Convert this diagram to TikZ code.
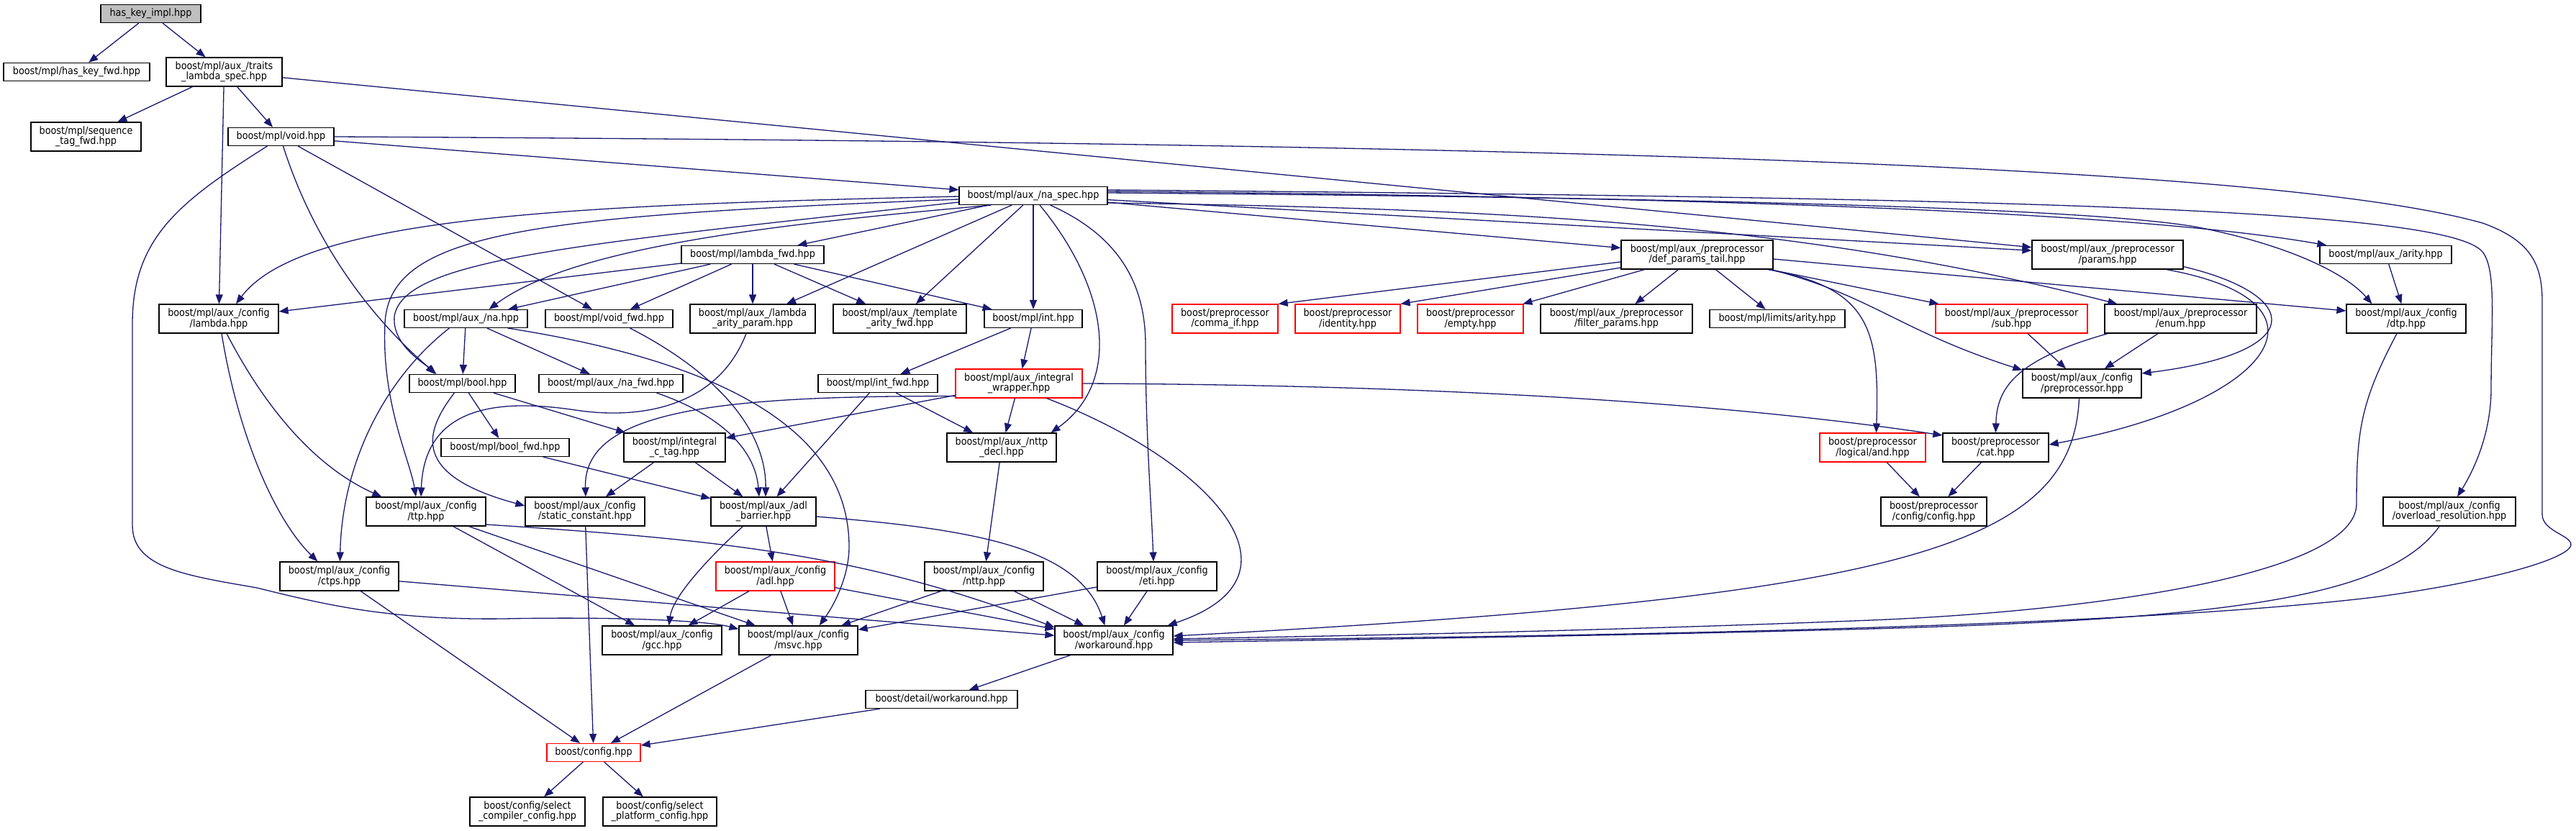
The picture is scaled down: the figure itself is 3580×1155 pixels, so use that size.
\documentclass[tikz,border=0pt]{standalone}
\usepackage{fontspec}
\setmainfont{DejaVu Sans}[FakeStretch=0.9]
\usetikzlibrary{arrows.meta,calc}
\definecolor{edgec}{HTML}{191970}
\definecolor{rootfill}{HTML}{BFBFBF}
\newcommand{\nodefont}{\fontsize{7.1pt}{7.2pt}\selectfont}
\tikzset{
 box/.style={draw=black, fill=white, line width=0.6pt, inner sep=0pt, align=center, font=\nodefont, minimum height=12.5pt, text=black},
 two/.style={minimum height=20pt},
 redbox/.style={box, draw=red},
 root/.style={box, fill=rootfill},
 wd/.style={minimum width=#1*0.5pt},
 edge/.style={draw=edgec, line width=0.65pt, -{Triangle[length=6.5pt,width=5pt]}},
}
\begin{document}
\begin{tikzpicture}[x=0.5pt,y=-0.5pt]
\fill[white] (0,0) rectangle (3580,1155);
\useasboundingbox (0,0) rectangle (3580,1155);

% nodes
\node[root,wd=139] (n1) at (209.5,19) {has\_key\_impl.hpp};
\node[box,wd=203] (n2) at (106.5,100) {boost/mpl/has\_key\_fwd.hpp};
\node[box,two,wd=161] (n3) at (311.5,100) {boost/mpl/aux\_/traits\\\_lambda\_spec.hpp};
\node[box,two,wd=153] (n4) at (119.5,190) {boost/mpl/sequence\\\_tag\_fwd.hpp};
\node[box,wd=147] (n5) at (390.5,190) {boost/mpl/void.hpp};
\node[box,wd=206] (n6) at (1436,272) {boost/mpl/aux\_/na\_spec.hpp};
\node[box,wd=198] (n7) at (1046,354) {boost/mpl/lambda\_fwd.hpp};
\node[box,two,wd=211] (n8) at (2358.5,354) {boost/mpl/aux\_/preprocessor\\/def\_params\_tail.hpp};
\node[box,two,wd=210] (n9) at (2929,354) {boost/mpl/aux\_/preprocessor\\/params.hpp};
\node[box,wd=183] (n10) at (3315.5,354) {boost/mpl/aux\_/arity.hpp};
\node[box,two,wd=166] (n11) at (304,443) {boost/mpl/aux\_/config\\/lambda.hpp};
\node[box,wd=171] (n12) at (647.5,443) {boost/mpl/aux\_/na.hpp};
\node[box,wd=177] (n13) at (846.5,443) {boost/mpl/void\_fwd.hpp};
\node[box,two,wd=174] (n14) at (1046,443) {boost/mpl/aux\_/lambda\\\_arity\_param.hpp};
\node[box,two,wd=185] (n15) at (1250.5,443) {boost/mpl/aux\_/template\\\_arity\_fwd.hpp};
\node[box,wd=136] (n16) at (1436,443) {boost/mpl/int.hpp};
\node[redbox,two,wd=147] (n17) at (1702.5,443) {boost/preprocessor\\/comma\_if.hpp};
\node[redbox,two,wd=146] (n18) at (1873,443) {boost/preprocessor\\/identity.hpp};
\node[redbox,two,wd=147] (n19) at (2043.5,443) {boost/preprocessor\\/empty.hpp};
\node[box,two,wd=211] (n20) at (2246.5,443) {boost/mpl/aux\_/preprocessor\\/filter\_params.hpp};
\node[box,wd=188] (n21) at (2470,443) {boost/mpl/limits/arity.hpp};
\node[redbox,two,wd=211] (n22) at (2795.5,443) {boost/mpl/aux\_/preprocessor\\/sub.hpp};
\node[box,two,wd=211] (n23) at (3030.5,443) {boost/mpl/aux\_/preprocessor\\/enum.hpp};
\node[box,two,wd=166] (n24) at (3344,443) {boost/mpl/aux\_/config\\/dtp.hpp};
\node[box,wd=147] (n25) at (642.5,533) {boost/mpl/bool.hpp};
\node[box,wd=200] (n26) at (849,533) {boost/mpl/aux\_/na\_fwd.hpp};
\node[box,wd=166] (n27) at (1220,533) {boost/mpl/int\_fwd.hpp};
\node[redbox,two,wd=176] (n28) at (1416,533) {boost/mpl/aux\_/integral\\\_wrapper.hpp};
\node[box,two,wd=165] (n29) at (2893.5,533) {boost/mpl/aux\_/config\\/preprocessor.hpp};
\node[box,wd=178] (n30) at (702,622) {boost/mpl/bool\_fwd.hpp};
\node[box,two,wd=141] (n31) at (937.5,622) {boost/mpl/integral\\\_c\_tag.hpp};
\node[box,two,wd=152] (n32) at (1392,622) {boost/mpl/aux\_/nttp\\\_decl.hpp};
\node[redbox,two,wd=147] (n33) at (2602.5,622) {boost/preprocessor\\/logical/and.hpp};
\node[box,two,wd=147] (n34) at (2773.5,622) {boost/preprocessor\\/cat.hpp};
\node[box,two,wd=166] (n35) at (592,711) {boost/mpl/aux\_/config\\/ttp.hpp};
\node[box,two,wd=166] (n36) at (813,711) {boost/mpl/aux\_/config\\/static\_constant.hpp};
\node[box,two,wd=146] (n37) at (1061,711) {boost/mpl/aux\_/adl\\\_barrier.hpp};
\node[box,two,wd=147] (n38) at (2687.5,711) {boost/preprocessor\\/config/config.hpp};
\node[box,two,wd=184] (n39) at (3404,711) {boost/mpl/aux\_/config\\/overload\_resolution.hpp};
\node[box,two,wd=165] (n40) at (471.5,801) {boost/mpl/aux\_/config\\/ctps.hpp};
\node[redbox,two,wd=165] (n41) at (1077.5,801) {boost/mpl/aux\_/config\\/adl.hpp};
\node[box,two,wd=165] (n42) at (1367.5,801) {boost/mpl/aux\_/config\\/nttp.hpp};
\node[box,two,wd=166] (n43) at (1608,801) {boost/mpl/aux\_/config\\/eti.hpp};
\node[box,two,wd=166] (n44) at (920,890) {boost/mpl/aux\_/config\\/gcc.hpp};
\node[box,two,wd=165] (n45) at (1109.5,890) {boost/mpl/aux\_/config\\/msvc.hpp};
\node[box,two,wd=164] (n46) at (1548,890) {boost/mpl/aux\_/config\\/workaround.hpp};
\node[box,wd=211] (n47) at (1308.5,972) {boost/detail/workaround.hpp};
\node[redbox,wd=130] (n48) at (825,1046) {boost/config.hpp};
\node[box,two,wd=160] (n49) at (733,1128) {boost/config/select\\\_compiler\_config.hpp};
\node[box,two,wd=158] (n50) at (917,1128) {boost/config/select\\\_platform\_config.hpp};

% straight edges
\draw[edge] (n1) -- (n2);
\draw[edge] (n1) -- (n3);
\draw[edge] (n3) -- (n4);
\draw[edge] (n3) -- (n5);
\draw[edge] (n3) -- (n11);
\draw[edge] (n3) -- (n9);
\draw[edge] (n5) -- (n6);
\draw[edge] (n5) -- (n13);
\draw[edge] (n6) -- (n7);
\draw[edge] (n6) -- (n16);
\draw[edge] (n6) -- (n15);
\draw[edge] (n6) -- (n14);
\draw[edge] (n6) -- (n8);
\draw[edge] (n6) -- (n9);
\draw[edge] (n7) -- (n11);
\draw[edge] (n7) -- (n12);
\draw[edge] (n7) -- (n13);
\draw[edge] (n7) -- (n14);
\draw[edge] (n7) -- (n15);
\draw[edge] (n7) -- (n16);
\draw[edge] ($(n8.west)+(0,10)$) -- (n17.north east);
\draw[edge] ($(n8.west)+(0,18)$) -- (n18.north east);
\draw[edge] (n8) -- (n19);
\draw[edge] (n8) -- (n20);
\draw[edge] (n8) -- (n21);
\draw[edge] (n8) -- (n22);
\draw[edge] ($(n8.east)+(0,6)$) -- ($(n24.west)+(0,-11)$);
\draw[edge] (n10) -- (n24);
\draw[edge] (n12) -- (n25);
\draw[edge] (n12) -- (n26);
\draw[edge] (n16) -- (n27);
\draw[edge] (n16) -- (n28);
\draw[edge] (n22) -- (n29);
\draw[edge] (n23) -- (n29);
\draw[edge] (n25) -- (n30);
\draw[edge] (n25) -- (n31);
\draw[edge] (n27) -- (n37);
\draw[edge] (n27) -- (n32);
\draw[edge] (n28) -- (n31);
\draw[edge] (n28) -- (n32);
\draw[edge] (n30) -- (n37);
\draw[edge] (n31) -- (n36);
\draw[edge] (n31) -- (n37);
\draw[edge] (n32) -- (n42);
\draw[edge] (n33) -- (n38);
\draw[edge] (n34) -- (n38);
\draw[edge] (n35) -- (n44);
\draw[edge] (n35) -- (n45);
\draw[edge] (n36) -- (n48);
\draw[edge] (n37) -- (n41);
\draw[edge] (n40) -- (n48);
\draw[edge] (n40) -- (n46);
\draw[edge] (n41) -- (n44);
\draw[edge] (n41) -- (n45);
\draw[edge] (n41) -- (n46);
\draw[edge] (n42) -- (n45);
\draw[edge] (n42) -- (n46);
\draw[edge] (n43) -- (n45);
\draw[edge] (n43) -- (n46);
\draw[edge] (n45) -- (n48);
\draw[edge] (n46) -- (n47);
\draw[edge] (n47) -- (n48);
\draw[edge] (n48) -- (n49);
\draw[edge] (n48) -- (n50);

% curved edges
% void -> workaround (far right loop)
\draw[edge] (n5.east) .. controls (2400,200) and (3200,240) .. (3450,310)
  .. controls (3520,335) and (3533,370) .. (3533,420) -- (3533,715)
  .. controls (3533,740) and (3580,745) .. (3572,760)
  .. controls (3560,780) and (3450,810) .. (3300,830)
  .. controls (2900,878) and (2000,886) .. (n46.east);
% void -> msvc
\draw[edge] ($(n5.south west)+(55,0)$) .. controls (250,280) and (184,330) .. (184,450) -- (184,730)
  .. controls (184,790) and (260,800) .. (357,817)
  .. controls (450,840) and (540,862) .. (700,860)
  .. controls (850,857) and (980,862) .. ($(n45.north west)+(0,5)$);
% void -> bool
\draw[edge] ($(n5.south)+(3,0)$) .. controls (450,380) and (560,480) .. ($(n25.north west)+(38,0)$);
% na_spec -> config/lambda
\draw[edge] ($(n6.west)+(0,1)$) .. controls (800,285) and (420,300) .. ($(n11.north)+(24,0)$);
% na_spec -> ttp
\draw[edge] ($(n6.west)+(0,5)$) .. controls (750,300) and (540,320) .. (535,450)
  .. controls (530,560) and (570,640) .. ($(n35.north)+(-14,0)$);
% na_spec -> bool
\draw[edge] ($(n6.west)+(0,9)$) .. controls (800,340) and (560,360) .. (548,440)
  .. controls (545,480) and (590,505) .. ($(n25.north west)+(36,0)$);
% na_spec -> na
\draw[edge] ($(n6.south west)+(45,0)$) .. controls (1100,310) and (800,340) .. ($(n12.north)+(32,0)$);
% na_spec -> nttp_decl
\draw[edge] ($(n6.south)+(9,0)$) .. controls (1540,400) and (1560,530) .. ($(n32.north east)+(-8,0)$);
% na_spec -> eti
\draw[edge] ($(n6.south east)+(-80,0)$) .. controls (1560,330) and (1592,400) .. (1592,480)
  .. controls (1592,600) and (1600,700) .. ($(n43.north)+(-5,0)$);
% na_spec -> enum
\draw[edge] ($(n6.east)+(0,10)$) .. controls (2100,290) and (2500,310) .. ($(n23.north west)+(18,0)$);
% na_spec -> dtp
\draw[edge] ($(n6.east)+(0,-4)$) .. controls (2400,275) and (2900,290) .. (3050,315)
  .. controls (3180,340) and (3260,380) .. ($(n24.north west)+(36,0)$);
% na_spec -> arity
\draw[edge] ($(n6.east)+(0,-6)$) .. controls (2500,275) and (3000,300) .. ($(n10.north west)+(10,0)$);
% na_spec -> overload_resolution
\draw[edge] ($(n6.east)+(0,-8)$) .. controls (2800,275) and (3400,290) .. (3450,350)
  .. controls (3470,375) and (3462,450) .. (3462,540)
  .. controls (3462,600) and (3440,650) .. ($(n39.north)+(11,0)$);
% def_params_tail -> config/preprocessor
\draw[edge] ($(n8.south east)+(-4,0)$) .. controls (2600,410) and (2640,460) .. ($(n29.north west)+(0,2)$);
% def_params_tail -> logical/and
\draw[edge] ($(n8.south east)+(-8,0)$) .. controls (2600,400) and (2612,460) .. ($(n33.north)+(5,0)$);
% params -> config/preprocessor
\draw[edge] ($(n9.south east)+(0,-4)$) .. controls (3200,410) and (3210,490) .. ($(n29.east)+(0,-14)$);
% params -> cat
\draw[edge] ($(n9.south east)+(-24,0)$) .. controls (3260,420) and (3160,560) .. ($(n34.east)+(0,-4)$);
% enum -> cat
\draw[edge] ($(n23.south west)+(5,0)$) .. controls (2800,500) and (2775,540) .. (n34.north);
% integral_wrapper -> static_constant
\draw[edge] ($(n28.south west)+(0,-3)$) .. controls (1000,550) and (810,570) .. ($(n36.north)+(1,0)$);
% integral_wrapper -> workaround
\draw[edge] ($(n28.south east)+(-50,0)$) .. controls (1680,640) and (1830,800) .. ($(n46.north east)+(-8,0)$);
% integral_wrapper -> cat
\draw[edge] (n28.east) .. controls (2000,535) and (2400,560) .. ($(n34.west)+(0,-17)$);
% lambda_arity_param -> ttp
\draw[edge] ($(n14.south)+(-9,0)$) .. controls (1000,560) and (900,585) .. (800,570)
  .. controls (700,555) and (590,560) .. ($(n35.north)+(-7,0)$);
% bool -> static_constant
\draw[edge] ($(n25.south west)+(63,0)$) .. controls (590,600) and (570,660) .. ($(n36.west)+(0,-8)$);
% config/lambda -> ttp, ctps
\draw[edge] ($(n11.south)+(11,0)$) .. controls (370,570) and (440,650) .. ($(n35.north west)+(22,0)$);
\draw[edge] ($(n11.south)+(4,0)$) .. controls (330,600) and (380,720) .. ($(n40.north west)+(53,0)$);
% na -> ctps
\draw[edge] ($(n12.south west)+(63,0)$) .. controls (530,530) and (475,650) .. ($(n40.north)+(1,0)$);
% na -> msvc
\draw[edge] ($(n12.south east)+(-28,0)$) .. controls (1050,510) and (1180,620) .. (1180,760)
  .. controls (1180,800) and (1160,840) .. ($(n45.north east)+(-54,0)$);
% na_fwd -> adl_barrier
\draw[edge] ($(n26.south east)+(-37,0)$) .. controls (1010,580) and (1050,630) .. ($(n37.north)+(-6,0)$);
% void_fwd -> adl_barrier
\draw[edge] ($(n13.south east)+(-60,0)$) .. controls (1000,520) and (1065,600) .. ($(n37.north)+(3,0)$);
% adl_barrier -> gcc
\draw[edge] ($(n37.south west)+(45,0)$) .. controls (980,780) and (935,830) .. ($(n44.north east)+(-74,0)$);
% adl_barrier -> workaround
\draw[edge] ($(n37.east)+(0,7)$) .. controls (1350,735) and (1500,760) .. ($(n46.north west)+(70,0)$);
% ttp -> workaround
\draw[edge] ($(n35.east)+(0,18)$) .. controls (1000,750) and (1200,770) .. ($(n46.west)+(0,-18)$);
% config/preprocessor -> workaround
\draw[edge] ($(n29.south)+(-4,0)$) .. controls (2880,760) and (2650,830) .. ($(n46.east)+(0,-6)$);
% dtp -> workaround
\draw[edge] ($(n24.south)+(-13,0)$) .. controls (3280,560) and (3275,600) .. (3275,700)
  .. controls (3275,800) and (2900,850) .. (2600,862)
  .. controls (2200,878) and (1800,885) .. ($(n46.east)+(0,-2)$);
% overload_resolution -> workaround
\draw[edge] ($(n39.south)+(-14,0)$) .. controls (3320,830) and (3100,860) .. (2600,874)
  .. controls (2200,885) and (1800,890) .. ($(n46.east)+(0,3)$);
\end{tikzpicture}
\end{document}
